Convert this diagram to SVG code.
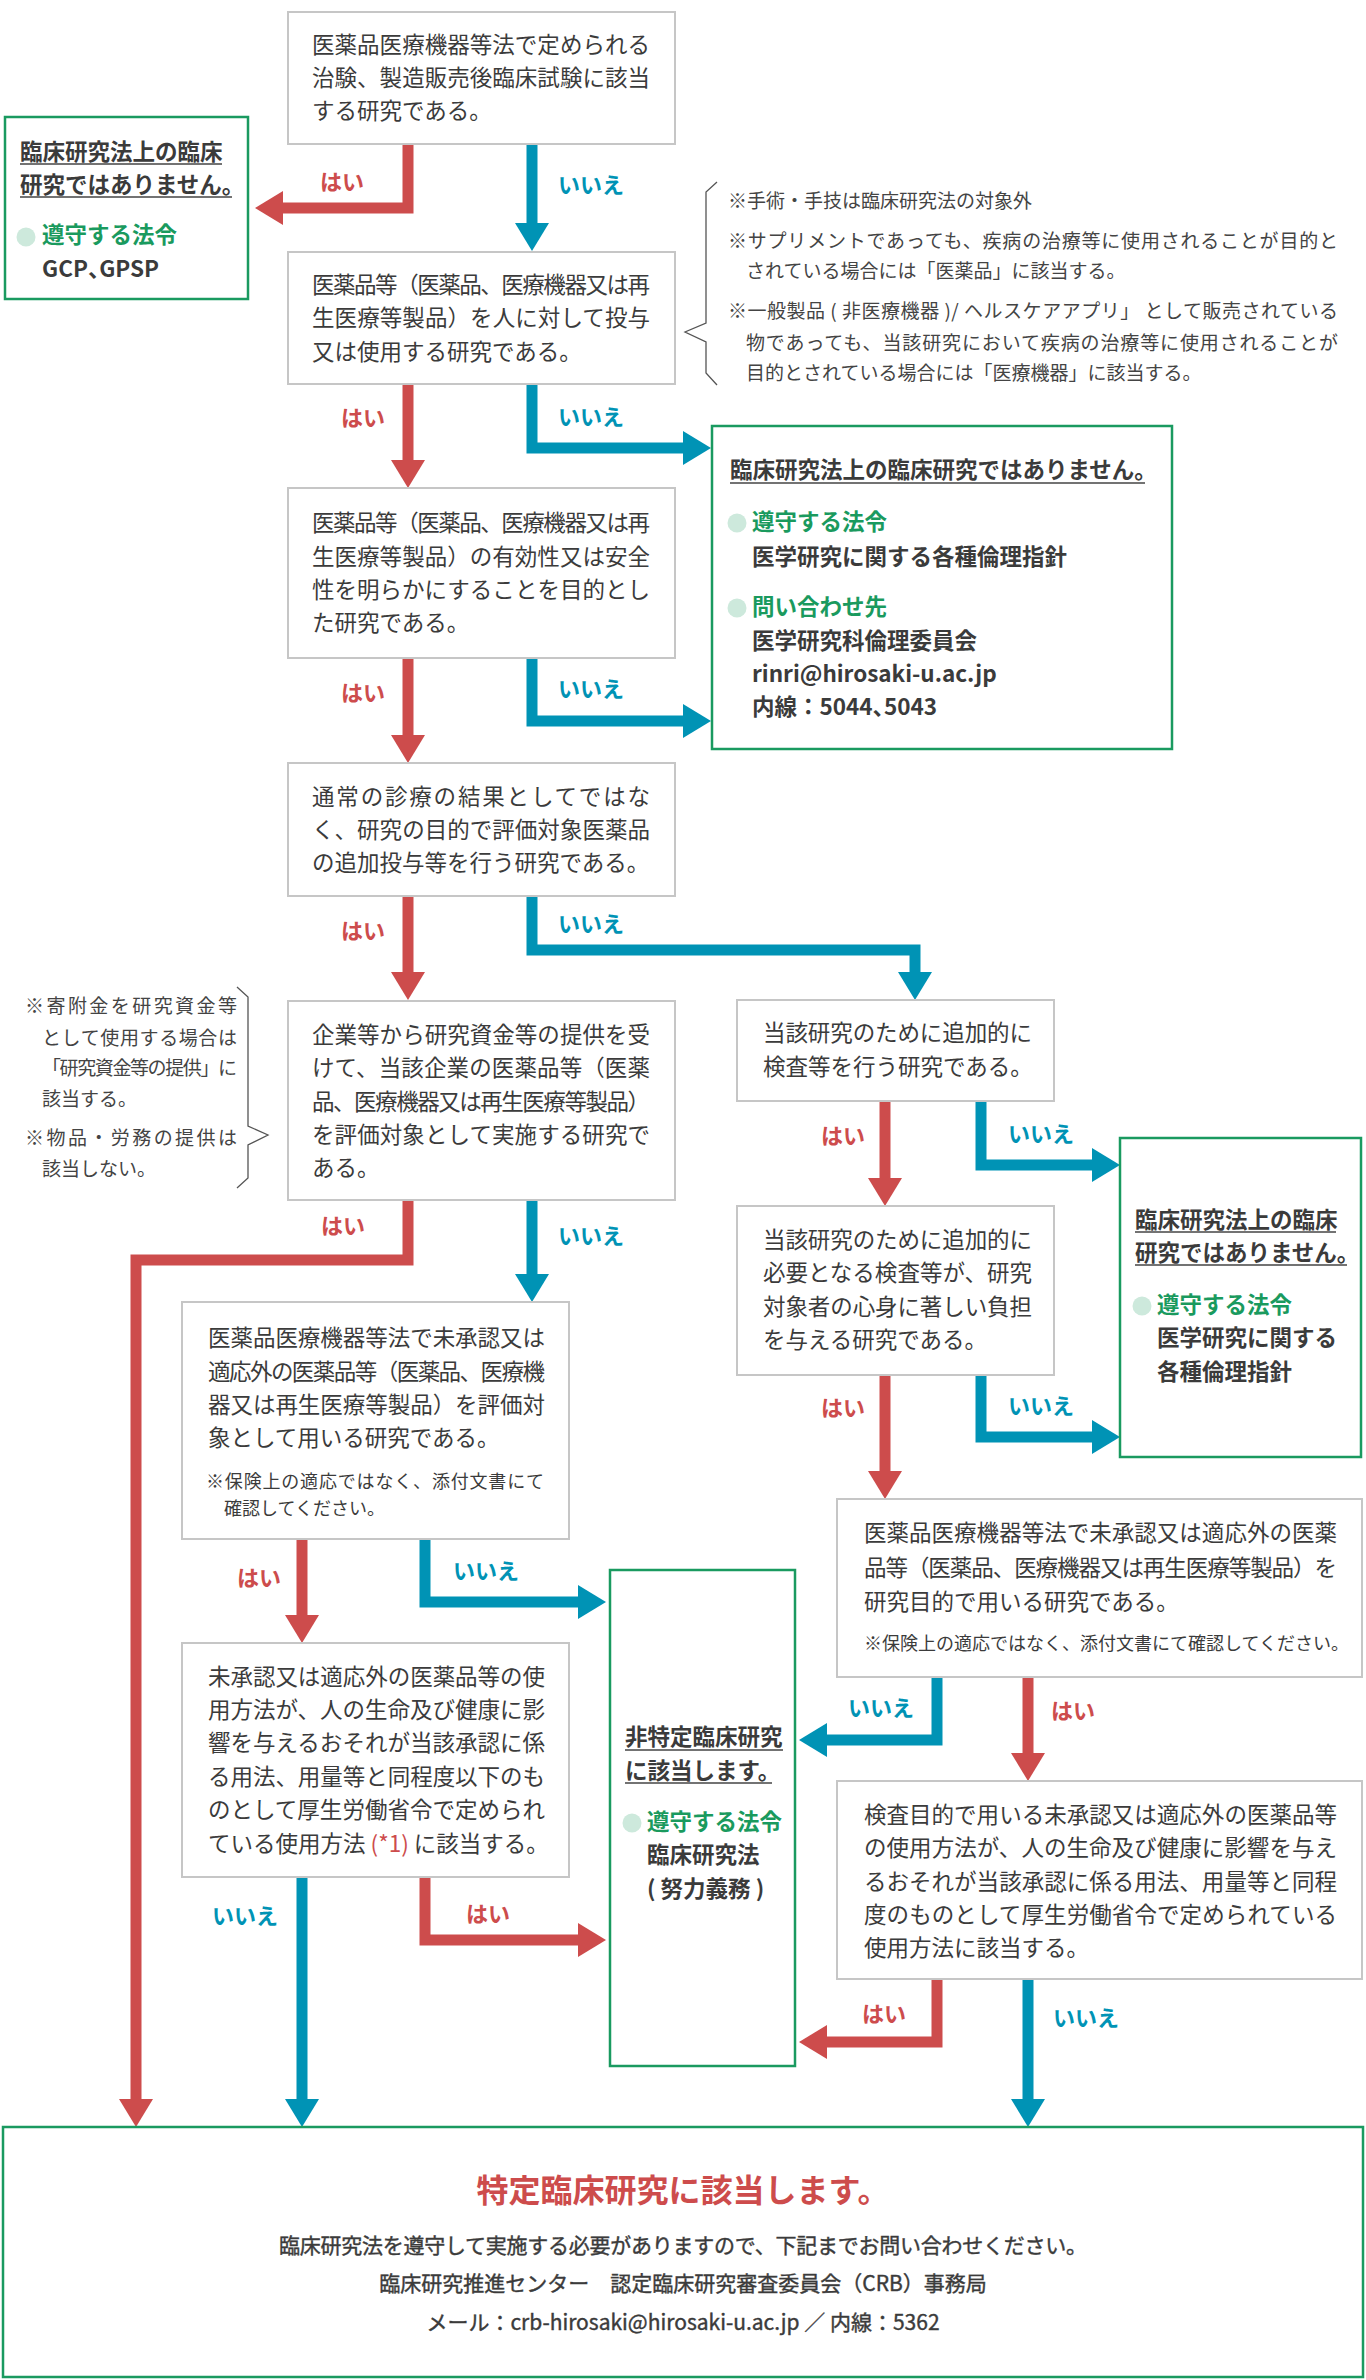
<svg xmlns="http://www.w3.org/2000/svg" width="1366" height="2380" viewBox="0 0 1366 2380">
<style>
text{font-family:"Noto Sans CJK JP","Noto Sans CJK SC",sans-serif;fill:#3b3b3b;}
.t{font-size:22.5px;}
.n{font-size:19px;fill:#444;}
.s{font-size:18px;}
.b{font-weight:700;}
.g{fill:#1a9a5e;}
.m{stroke:#3b3b3b;stroke-width:0.4;}
.h{font-feature-settings:"halt";}
.box{fill:#fff;stroke:#c6c6c6;stroke-width:2;}
.gbox{fill:#fff;stroke:#1a9a60;stroke-width:2.5;}
.yes{font-size:22px;font-weight:700;fill:#cd4c4c;}
.no{font-size:22px;font-weight:700;fill:#0093b5;}
.ar{fill:none;stroke:#cd4c4c;stroke-width:11;stroke-linejoin:miter;marker-end:url(#hr);}
.ab{fill:none;stroke:#0093b5;stroke-width:11;stroke-linejoin:miter;marker-end:url(#hb);}
.ul{stroke:#444;stroke-width:1.5;}
.dot{fill:#cde9dc;}
.brace{fill:none;stroke:#555;stroke-width:1.3;}
.red{fill:#cd4c4c;}
</style>
<defs>
<marker id="hr" markerUnits="userSpaceOnUse" markerWidth="28" markerHeight="34" viewBox="0 0 28 34" refX="0" refY="17" orient="auto"><path d="M0,0 L28,17 L0,34z" fill="#cd4c4c"/></marker>
<marker id="hb" markerUnits="userSpaceOnUse" markerWidth="28" markerHeight="34" viewBox="0 0 28 34" refX="0" refY="17" orient="auto"><path d="M0,0 L28,17 L0,34z" fill="#0093b5"/></marker>
</defs>
<rect width="1366" height="2380" fill="#fff"/>

<g id="connectors">
<path class="ar" d="M408,144 V208 H283"/>
<path class="ab" d="M532,144 V223"/>
<path class="ar" d="M408,384 V460"/>
<path class="ab" d="M532,384 V448 H683"/>
<path class="ar" d="M408,658 V735"/>
<path class="ab" d="M532,658 V721 H683"/>
<path class="ar" d="M408,896 V972"/>
<path class="ab" d="M532,896 V950 H915 V972"/>
<path class="ar" d="M408,1200 V1260 H136 V2099"/>
<path class="ab" d="M532,1200 V1274"/>
<path class="ar" d="M302,1539 V1615"/>
<path class="ab" d="M425,1539 V1602 H578"/>
<path class="ab" d="M302,1877 V2099"/>
<path class="ar" d="M425,1877 V1940 H578"/>
<path class="ar" d="M885,1101 V1178"/>
<path class="ab" d="M981,1101 V1165 H1092"/>
<path class="ar" d="M885,1375 V1471"/>
<path class="ab" d="M981,1375 V1437 H1092"/>
<path class="ab" d="M937,1677 V1740 H827"/>
<path class="ar" d="M1028,1677 V1753"/>
<path class="ar" d="M937,1979 V2042 H827"/>
<path class="ab" d="M1028,1979 V2099"/>
<text class="yes" x="320" y="190">はい</text>
<text class="no" x="558" y="193">いいえ</text>
<text class="yes" x="341" y="426">はい</text>
<text class="no" x="558" y="425">いいえ</text>
<text class="yes" x="341" y="701">はい</text>
<text class="no" x="558" y="697">いいえ</text>
<text class="yes" x="341" y="939">はい</text>
<text class="no" x="558" y="932">いいえ</text>
<text class="yes" x="321" y="1234">はい</text>
<text class="no" x="558" y="1244">いいえ</text>
<text class="yes" x="237" y="1586">はい</text>
<text class="no" x="453" y="1579">いいえ</text>
<text class="no" x="212" y="1924">いいえ</text>
<text class="yes" x="466" y="1922">はい</text>
<text class="yes" x="821" y="1144">はい</text>
<text class="no" x="1008" y="1142">いいえ</text>
<text class="yes" x="821" y="1416">はい</text>
<text class="no" x="1008" y="1414">いいえ</text>
<text class="no" x="848" y="1716">いいえ</text>
<text class="yes" x="1051" y="1719">はい</text>
<text class="yes" x="862" y="2022">はい</text>
<text class="no" x="1053" y="2026">いいえ</text>
</g>

<g id="q1">
<rect class="box" x="288" y="12" width="387" height="132"/>
<text class="t" x="312" y="53" textLength="338">医薬品医療機器等法で定められる</text>
<text class="t" x="312" y="86" textLength="338">治験、製造販売後臨床試験に該当</text>
<text class="t" x="312" y="119">する研究である。</text>
</g>

<g id="not-clinical-1">
<rect class="gbox" x="5" y="117" width="243" height="182"/>
<text class="t b" x="20" y="160">臨床研究法上の臨床</text>
<line class="ul" x1="20" y1="164" x2="222" y2="164"/>
<text class="t b" x="20" y="193">研究ではありません。</text>
<line class="ul" x1="20" y1="197" x2="232" y2="197"/>
<circle class="dot" cx="26" cy="237" r="9.5"/>
<text class="t b g" x="42" y="243">遵守する法令</text>
<text class="t b" x="42" y="277">GCP<tspan class="h">、</tspan>GPSP</text>
</g>

<g id="q2">
<rect class="box" x="288" y="252" width="387" height="132"/>
<text class="t" x="312" y="293" textLength="338">医薬品等（医薬品、医療機器又は再</text>
<text class="t" x="312" y="326" textLength="338">生医療等製品）を人に対して投与</text>
<text class="t" x="312" y="360">又は使用する研究である。</text>
</g>

<g id="note-right">
<path class="brace" d="M717,182 L706,192 V323 L685,332 L706,342 V373 L717,385"/>
<text class="n" x="728" y="208">※手術・手技は臨床研究法の対象外</text>
<text class="n" x="728" y="248" textLength="610">※サプリメントであっても、疾病の治療等に使用されることが目的と</text>
<text class="n" x="746" y="278">されている場合には「医薬品」に該当する。</text>
<text class="n" x="728" y="318" textLength="610">※一般製品 ( 非医療機器 )/ ヘルスケアアプリ」 として販売されている</text>
<text class="n" x="746" y="350" textLength="592">物であっても、当該研究において疾病の治療等に使用されることが</text>
<text class="n" x="746" y="380">目的とされている場合には「医療機器」に該当する。</text>
</g>

<g id="not-clinical-2">
<rect class="gbox" x="712" y="426" width="460" height="323"/>
<text class="t b" x="730" y="478">臨床研究法上の臨床研究ではありません。</text>
<line class="ul" x1="730" y1="483" x2="1145" y2="483"/>
<circle class="dot" cx="737" cy="523" r="9.5"/>
<text class="t b g" x="752" y="530">遵守する法令</text>
<text class="t b" x="752" y="565">医学研究に関する各種倫理指針</text>
<circle class="dot" cx="737" cy="608" r="9.5"/>
<text class="t b g" x="752" y="615">問い合わせ先</text>
<text class="t b" x="752" y="649">医学研究科倫理委員会</text>
<text class="t b" x="752" y="682">rinri@hirosaki-u.ac.jp</text>
<text class="t b" x="752" y="715">内線：5044<tspan class="h">、</tspan>5043</text>
</g>

<g id="q3">
<rect class="box" x="288" y="488" width="387" height="170"/>
<text class="t" x="312" y="531" textLength="338">医薬品等（医薬品、医療機器又は再</text>
<text class="t" x="312" y="565" textLength="338">生医療等製品）の有効性又は安全</text>
<text class="t" x="312" y="598" textLength="338">性を明らかにすることを目的とし</text>
<text class="t" x="312" y="631">た研究である。</text>
</g>

<g id="q4">
<rect class="box" x="288" y="763" width="387" height="133"/>
<text class="t" x="312" y="805" textLength="338">通常の診療の結果としてではな</text>
<text class="t" x="312" y="838" textLength="338">く、研究の目的で評価対象医薬品</text>
<text class="t" x="312" y="871">の追加投与等を行う研究である。</text>
</g>

<g id="note-left">
<path class="brace" d="M237,987 L248,997 V1126 L268,1135 L248,1145 V1178 L237,1188"/>
<text class="n" x="25" y="1013" textLength="212">※寄附金を研究資金等</text>
<text class="n" x="42" y="1045" textLength="195">として使用する場合は</text>
<text class="n" x="42" y="1075" textLength="195">「研究資金等の提供」に</text>
<text class="n" x="42" y="1106">該当する。</text>
<text class="n" x="25" y="1145" textLength="212">※物品・労務の提供は</text>
<text class="n" x="42" y="1176">該当しない。</text>
</g>

<g id="q5">
<rect class="box" x="288" y="1001" width="387" height="199"/>
<text class="t" x="312" y="1043" textLength="338">企業等から研究資金等の提供を受</text>
<text class="t" x="312" y="1076" textLength="338">けて、当該企業の医薬品等（医薬</text>
<text class="t" x="312" y="1110" textLength="338">品、医療機器又は再生医療等製品）</text>
<text class="t" x="312" y="1143" textLength="338">を評価対象として実施する研究で</text>
<text class="t" x="312" y="1176">ある。</text>
</g>

<g id="r1">
<rect class="box" x="737" y="1000" width="317" height="101"/>
<text class="t" x="763" y="1041" textLength="269">当該研究のために追加的に</text>
<text class="t" x="763" y="1075">検査等を行う研究である。</text>
</g>

<g id="r2">
<rect class="box" x="737" y="1206" width="317" height="169"/>
<text class="t" x="763" y="1248" textLength="269">当該研究のために追加的に</text>
<text class="t" x="763" y="1281" textLength="269">必要となる検査等が、研究</text>
<text class="t" x="763" y="1315" textLength="269">対象者の心身に著しい負担</text>
<text class="t" x="763" y="1348">を与える研究である。</text>
</g>

<g id="not-clinical-3">
<rect class="gbox" x="1120" y="1138" width="241" height="319"/>
<text class="t b" x="1135" y="1228">臨床研究法上の臨床</text>
<line class="ul" x1="1135" y1="1232" x2="1336" y2="1232"/>
<text class="t b" x="1135" y="1261">研究ではありません。</text>
<line class="ul" x1="1135" y1="1265" x2="1347" y2="1265"/>
<circle class="dot" cx="1142" cy="1306" r="9.5"/>
<text class="t b g" x="1157" y="1313">遵守する法令</text>
<text class="t b" x="1157" y="1346">医学研究に関する</text>
<text class="t b" x="1157" y="1380">各種倫理指針</text>
</g>

<g id="l6">
<rect class="box" x="182" y="1302" width="387" height="237"/>
<text class="t" x="208" y="1346" textLength="337">医薬品医療機器等法で未承認又は</text>
<text class="t" x="208" y="1380" textLength="337">適応外の医薬品等（医薬品、医療機</text>
<text class="t" x="208" y="1413" textLength="337">器又は再生医療等製品）を評価対</text>
<text class="t" x="208" y="1446">象として用いる研究である。</text>
<text class="s" x="206" y="1488" textLength="338">※保険上の適応ではなく、添付文書にて</text>
<text class="s" x="224" y="1515">確認してください。</text>
</g>

<g id="l7">
<rect class="box" x="182" y="1643" width="387" height="234"/>
<text class="t" x="208" y="1685" textLength="337">未承認又は適応外の医薬品等の使</text>
<text class="t" x="208" y="1718" textLength="337">用方法が、人の生命及び健康に影</text>
<text class="t" x="208" y="1751" textLength="337">響を与えるおそれが当該承認に係</text>
<text class="t" x="208" y="1785" textLength="337">る用法、用量等と同程度以下のも</text>
<text class="t" x="208" y="1818" textLength="337">のとして厚生労働省令で定められ</text>
<text class="t" x="208" y="1852">ている使用方法 <tspan class="red">(*1)</tspan> に該当する。</text>
</g>

<g id="non-specified">
<rect class="gbox" x="610" y="1570" width="185" height="496"/>
<text class="t b" x="625" y="1745">非特定臨床研究</text>
<line class="ul" x1="625" y1="1750" x2="783" y2="1750"/>
<text class="t b" x="625" y="1779">に該当します。</text>
<line class="ul" x1="625" y1="1783" x2="772" y2="1783"/>
<circle class="dot" cx="632" cy="1823" r="9.5"/>
<text class="t b g" x="647" y="1830">遵守する法令</text>
<text class="t b" x="647" y="1863">臨床研究法</text>
<text class="t b" x="647" y="1897">( 努力義務 )</text>
</g>

<g id="r3">
<rect class="box" x="837" y="1499" width="525" height="178"/>
<text class="t" x="864" y="1541" textLength="473">医薬品医療機器等法で未承認又は適応外の医薬</text>
<text class="t" x="864" y="1576" textLength="473">品等（医薬品、医療機器又は再生医療等製品）を</text>
<text class="t" x="864" y="1610">研究目的で用いる研究である。</text>
<text class="s" x="864" y="1650">※保険上の適応ではなく、添付文書にて確認してください。</text>
</g>

<g id="r4">
<rect class="box" x="837" y="1781" width="525" height="198"/>
<text class="t" x="864" y="1823" textLength="473">検査目的で用いる未承認又は適応外の医薬品等</text>
<text class="t" x="864" y="1856" textLength="473">の使用方法が、人の生命及び健康に影響を与え</text>
<text class="t" x="864" y="1890" textLength="473">るおそれが当該承認に係る用法、用量等と同程</text>
<text class="t" x="864" y="1923" textLength="473">度のものとして厚生労働省令で定められている</text>
<text class="t" x="864" y="1956">使用方法に該当する。</text>
</g>

<g id="specified">
<rect class="gbox" x="3" y="2127" width="1360" height="250"/>
<text x="683" y="2202" text-anchor="middle" font-size="32" font-weight="700" class="red">特定臨床研究に該当します。</text>
<text class="m" x="683" y="2253" text-anchor="middle" font-size="21" textLength="808">臨床研究法を遵守して実施する必要がありますので、下記までお問い合わせください。</text>
<text class="m" x="683" y="2291" text-anchor="middle" font-size="21">臨床研究推進センター　認定臨床研究審査委員会（CRB）事務局</text>
<text class="m" x="683" y="2330" text-anchor="middle" font-size="21">メール：crb-hirosaki@hirosaki-u.ac.jp ／ 内線：5362</text>
</g>
</svg>
